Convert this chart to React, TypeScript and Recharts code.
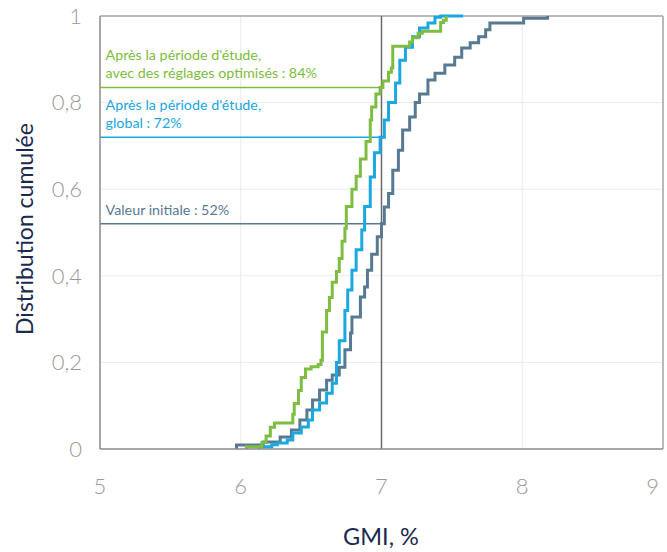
import React from 'react';
import { LineChart, Line, XAxis, YAxis, CartesianGrid, ReferenceLine } from 'recharts';

// Tick values
const xTicks = [5, 6, 7, 8, 9];
const yTicks = [0, 0.2, 0.4, 0.6, 0.8, 1];

// Série : après la période d'étude, avec des réglages optimisés (vert)
const optimGmi = [6.04, 6.04, 6.15, 6.18, 6.21, 6.24, 6.37, 6.38, 6.41, 6.43, 6.46, 6.5, 6.55, 6.57, 6.58, 6.61, 6.63, 6.65, 6.68, 6.7, 6.72, 6.74, 6.75, 6.79, 6.82, 6.85, 6.89, 6.92, 6.93, 6.96, 6.99, 7.01, 7.05, 7.07, 7.08, 7.2, 7.22, 7.26, 7.29, 7.42, 7.44, 7.46];
const optimCum = [0, 0.005, 0.015, 0.03, 0.05, 0.06, 0.08, 0.105, 0.135, 0.165, 0.185, 0.19, 0.195, 0.205, 0.27, 0.32, 0.35, 0.385, 0.41, 0.44, 0.48, 0.51, 0.56, 0.6, 0.63, 0.67, 0.71, 0.76, 0.79, 0.82, 0.835, 0.85, 0.87, 0.88, 0.93, 0.94, 0.95, 0.96, 0.965, 0.985, 0.99, 1.0];

// Série : après la période d'étude, global (bleu)
const globalGmi = [6.13, 6.13, 6.22, 6.26, 6.33, 6.37, 6.43, 6.48, 6.51, 6.56, 6.61, 6.65, 6.68, 6.7, 6.74, 6.76, 6.79, 6.82, 6.86, 6.88, 6.92, 6.95, 6.99, 7.02, 7.05, 7.1, 7.13, 7.17, 7.22, 7.27, 7.33, 7.38, 7.42, 7.58];
const globalCum = [0, 0.005, 0.01, 0.014, 0.021, 0.037, 0.051, 0.067, 0.09, 0.106, 0.129, 0.152, 0.2, 0.25, 0.32, 0.367, 0.413, 0.46, 0.506, 0.56, 0.628, 0.684, 0.72, 0.76, 0.8, 0.845, 0.898, 0.928, 0.952, 0.972, 0.984, 0.997, 1.0, 1.0];

// Série : valeur initiale (ardoise)
const initialGmi = [5.97, 5.97, 6.16, 6.28, 6.36, 6.42, 6.47, 6.51, 6.56, 6.61, 6.65, 6.7, 6.74, 6.78, 6.79, 6.85, 6.88, 6.9, 6.93, 6.97, 7.0, 7.02, 7.05, 7.08, 7.12, 7.15, 7.2, 7.24, 7.27, 7.33, 7.38, 7.45, 7.52, 7.57, 7.63, 7.69, 7.74, 7.77, 8.01, 8.18];
const initialCum = [0, 0.009, 0.016, 0.028, 0.044, 0.067, 0.09, 0.113, 0.136, 0.159, 0.171, 0.189, 0.229, 0.268, 0.305, 0.351, 0.374, 0.413, 0.45, 0.49, 0.52, 0.559, 0.59, 0.644, 0.69, 0.737, 0.767, 0.8, 0.82, 0.852, 0.868, 0.887, 0.905, 0.926, 0.938, 0.952, 0.968, 0.984, 0.995, 1.0];

// Marqueurs
const thresholdGmi = 7;
const optimLevel = 0.835;
const optimEnd = 6.99;
const globalLevel = 0.72;
const globalEnd = 7.0;
const initialLevel = 0.52;
const initialEnd = 7.0;
const optimText = ["Après la période d'étude,", 'avec des réglages optimisés\u202F:\u202F84%'];
const globalText = ["Après la période d'étude,", 'global\u202F:\u202F72%'];
const initialText = ['Valeur initiale\u202F:\u202F52%'];

const GREEN = '#7dbd41';
const BLUE = '#1ba7df';
const SLATE = '#577a92';
const NAVY = '#1c2a4f';

const toPoints = (xs: number[], ys: number[]) => xs.map((x, i) => ({ x, y: ys[i] }));
const optimData = toPoints(optimGmi, optimCum);
const globalData = toPoints(globalGmi, globalCum);
const initialData = toPoints(initialGmi, initialCum);

const makeLabel = (lines: string[], color: string) => (props: any) => {
  const vb = props.viewBox || {};
  const x = (vb.x ?? 0) + 5.5;
  const y = vb.y ?? 0;
  return (
    <text fill={color} fontSize={14.3} fontFamily="Lato">
      {lines.map((l, i) => (
        <tspan key={i} x={x} y={y - 9 - (lines.length - 1 - i) * 18}>
          {l}
        </tspan>
      ))}
    </text>
  );
};

const tickFont = { fontFamily: 'Lato', fontWeight: 300, fontSize: 22, fill: '#9a9a9a' };
const fmtY = (v: number) => String(v).replace('.', ',');

const XTick = (props: any) => {
  const { x, y, payload, index, visibleTicksCount } = props;
  const last = index === (visibleTicksCount ?? xTicks.length) - 1;
  return (
    <text x={last ? x - 4 : x} y={y} dy="0.71em" textAnchor={last ? 'end' : 'middle'} {...tickFont}>
      {payload.value}
    </text>
  );
};

export default function App() {
  return (
    <div style={{ position: 'absolute', left: 0, top: 0, fontFamily: 'Lato', background: '#fff' }}>
      <LineChart width={667} height={552} margin={{ top: 16, right: 4, bottom: 43, left: 0 }}>
        <CartesianGrid stroke="#ebebeb" strokeWidth={1} />
        <XAxis
          type="number"
          dataKey="x"
          domain={[5, 9]}
          ticks={xTicks}
          interval={0}
          height={60}
          tickSize={0}
          tickMargin={29}
          tickLine={false}
          axisLine={{ stroke: '#8c8c8c', strokeWidth: 1.5 }}
          tick={<XTick />}
          label={() => (
            <text x={381} y={536} textAnchor="middle" dominantBaseline="central" fill={NAVY} fontSize={23.5} fontFamily="Lato">
              GMI, %
            </text>
          )}
        />
        <YAxis
          type="number"
          dataKey="y"
          domain={[0, 1]}
          ticks={yTicks}
          interval={0}
          width={100}
          tickSize={0}
          tickMargin={18}
          tickLine={false}
          axisLine={{ stroke: '#8c8c8c', strokeWidth: 1.5 }}
          tick={tickFont}
          tickFormatter={fmtY}
          label={() => (
            <text
              x={24}
              y={229}
              transform="rotate(-90 24 229)"
              textAnchor="middle"
              dominantBaseline="central"
              fill={NAVY}
              fontSize={23}
              fontFamily="Lato"
            >
              Distribution cumulée
            </text>
          )}
        />
        <ReferenceLine y={1} stroke="#a6a6a6" strokeWidth={1.5} />
        <ReferenceLine x={9} stroke="#a6a6a6" strokeWidth={1.5} />
        <ReferenceLine x={thresholdGmi} stroke="#6a6a6a" strokeWidth={1.5} />
        <ReferenceLine
          segment={[{ x: 5, y: optimLevel }, { x: optimEnd, y: optimLevel }]}
          stroke={GREEN}
          strokeWidth={1.5}
          label={makeLabel(optimText, GREEN)}
        />
        <ReferenceLine
          segment={[{ x: 5, y: globalLevel }, { x: globalEnd, y: globalLevel }]}
          stroke={BLUE}
          strokeWidth={1.5}
          label={makeLabel(globalText, BLUE)}
        />
        <ReferenceLine
          segment={[{ x: 5, y: initialLevel }, { x: initialEnd, y: initialLevel }]}
          stroke={SLATE}
          strokeWidth={1.5}
          label={makeLabel(initialText, SLATE)}
        />
        <Line data={initialData} dataKey="y" type="stepAfter" stroke={SLATE} strokeWidth={3} dot={false} isAnimationActive={false} />
        <Line data={globalData} dataKey="y" type="stepAfter" stroke={BLUE} strokeWidth={3} dot={false} isAnimationActive={false} />
        <Line data={optimData} dataKey="y" type="stepAfter" stroke={GREEN} strokeWidth={3} dot={false} isAnimationActive={false} />
      </LineChart>
    </div>
  );
}
